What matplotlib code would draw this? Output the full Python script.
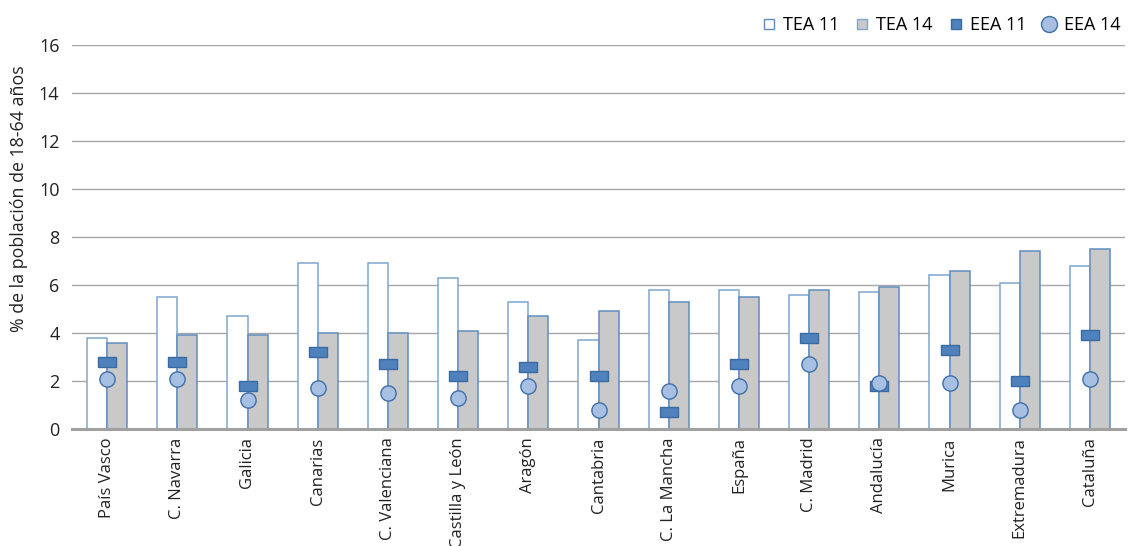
import matplotlib
matplotlib.use("Agg")
import matplotlib.pyplot as plt
import numpy as np
from matplotlib.lines import Line2D

regiones = ["País Vasco", "C. Navarra", "Galicia", "Canarias", "C. Valenciana",
            "Castilla y León", "Aragón", "Cantabria", "C. La Mancha", "España",
            "C. Madrid", "Andalucía", "Murica", "Extremadura", "Cataluña"]
tea11 = [3.8, 5.5, 4.7, 6.9, 6.9, 6.3, 5.3, 3.7, 5.8, 5.8, 5.6, 5.7, 6.4, 6.1, 6.8]
tea14 = [3.6, 3.9, 3.9, 4.0, 4.0, 4.1, 4.7, 4.9, 5.3, 5.5, 5.8, 5.9, 6.6, 7.4, 7.5]
eea11 = [2.8, 2.8, 1.8, 3.2, 2.7, 2.2, 2.6, 2.2, 0.7, 2.7, 3.8, 1.8, 3.3, 2.0, 3.9]
eea14 = [2.1, 2.1, 1.2, 1.7, 1.5, 1.3, 1.8, 0.8, 1.6, 1.8, 2.7, 1.9, 1.9, 0.8, 2.1]

plt.rcParams['font.family'] = ['Open Sans', 'DejaVu Sans']
fs = 12

fig = plt.figure(figsize=(11.33, 5.46), dpi=100)
ax = fig.add_axes([72 / 1133, 117 / 546, 1053 / 1133, 384 / 546])

x = np.arange(len(regiones))
w = 0.285
ax.bar(x - w / 2, tea11, width=w, color='white', edgecolor='#7fa6d0', linewidth=1.1, zorder=2)
ax.bar(x + w / 2, tea14, width=w, color='#c9c9c9', edgecolor='#5f8dc0', linewidth=1.1, zorder=2)

# rectángulo para EEA 11
rect = [(-1, -0.59), (1, -0.59), (1, 0.59), (-1, 0.59), (-1, -0.59)]
ax.plot(x, eea11, linestyle='none', marker=rect, markersize=12.5,
        markerfacecolor='#4f81bd', markeredgecolor='#3a6a9f', markeredgewidth=1.0, zorder=4)
ax.plot(x, eea14, linestyle='none', marker='o', markersize=11,
        markerfacecolor='#a6bfe3', markeredgecolor='#3f6fa8', markeredgewidth=1.0, zorder=5)

ax.set_xlim(-0.5, len(regiones) - 0.5)
ax.set_ylim(0, 16)
ax.set_yticks(range(0, 17, 2))
ax.yaxis.grid(True, color='#a6a6a6', linewidth=1.0, zorder=0)
ax.set_axisbelow(True)
for s in ['left', 'right', 'top']:
    ax.spines[s].set_visible(False)
ax.spines['bottom'].set_color('#a0a0a0')
ax.spines['bottom'].set_linewidth(2.2)
ax.spines['bottom'].set_zorder(3)
ax.tick_params(axis='y', length=0, pad=9, labelsize=13, labelcolor='#222222')
ax.tick_params(axis='x', length=0, pad=6, labelsize=fs, labelcolor='#222222')
ax.set_xticks(x)
ax.set_xticklabels(regiones, rotation=90, va='top', ha='center')

ax.set_ylabel('% de la población de 18-64 años', fontsize=12.8, color='#222222')
ax.yaxis.set_label_coords(-0.042, 0.60)

handles = [
    Line2D([], [], linestyle='none', marker='s', markersize=7.5, markerfacecolor='white',
           markeredgecolor='#5f8dc0', markeredgewidth=1.0),
    Line2D([], [], linestyle='none', marker='s', markersize=7.5, markerfacecolor='#c9c9c9',
           markeredgecolor='#7fa6d0', markeredgewidth=1.0),
    Line2D([], [], linestyle='none', marker='s', markersize=7.5, markerfacecolor='#4f81bd',
           markeredgecolor='#3a6a9f', markeredgewidth=1.0),
    Line2D([], [], linestyle='none', marker='o', markersize=11.5, markerfacecolor='#a6bfe3',
           markeredgecolor='#3f6fa8', markeredgewidth=1.0),
]
fig.legend(handles, ['TEA 11', 'TEA 14', 'EEA 11', 'EEA 14'], ncol=4, frameon=False,
           loc='upper right', bbox_to_anchor=(1.003, 1.0), fontsize=13,
           handletextpad=0.3, columnspacing=0.75, handlelength=1.0)

fig.savefig('out.png', dpi=100)
